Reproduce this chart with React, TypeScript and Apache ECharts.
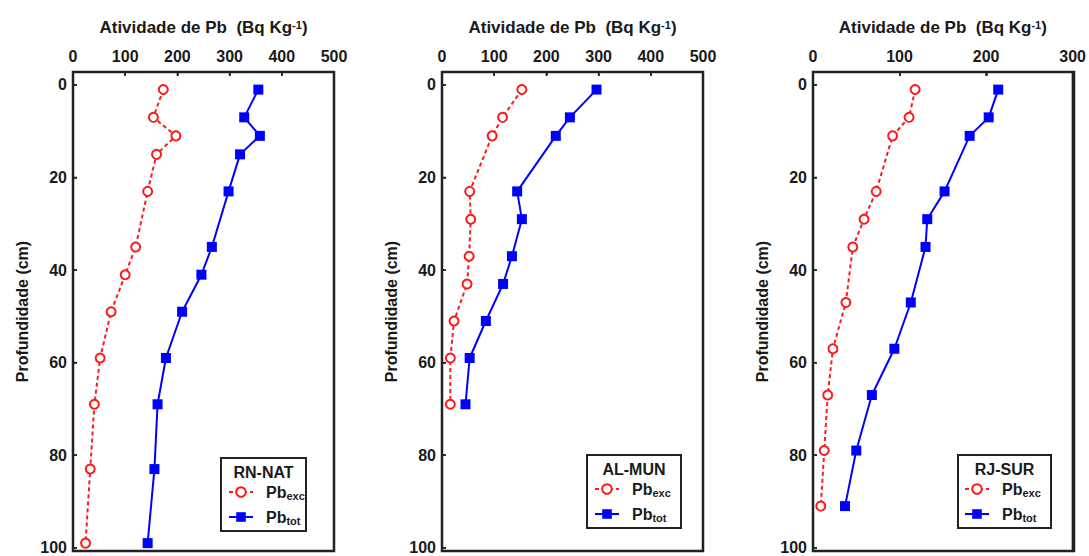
import React, { useEffect, useRef } from "react";
import * as echarts from "echarts";

const depthRN = [1, 7, 11, 15, 23, 35, 41, 49, 59, 69, 83, 99];
const excRN = [173, 154, 197, 160, 143, 120, 100, 73, 52, 41, 33, 24];
const totRN = [355, 328, 358, 320, 298, 266, 246, 209, 178, 162, 156, 143];

const depthAL = [1, 7, 11, 23, 29, 37, 43, 51, 59, 69];
const excAL = [153, 116, 96, 53, 55, 52, 48, 23, 16, 16];
const totAL = [296, 245, 218, 144, 153, 134, 117, 84, 53, 45];

const depthRJ = [1, 7, 11, 23, 29, 35, 47, 57, 67, 79, 91];
const excRJ = [118, 111, 92, 73, 59, 46, 38, 23, 17, 13, 9];
const totRJ = [214, 203, 181, 152, 132, 130, 113, 94, 68, 50, 37];

const siteNames = ["RN-NAT", "AL-MUN", "RJ-SUR"];
const xMaxes = [500, 500, 300];
const xTicks = [100, 200, 300, 400];
const depthTicks = [0, 20, 40, 60, 80, 100];
const yMin = -2.8;
const yMax = 100.7;
const xTitle = "Atividade de Pb  (Bq Kg{sup|-1})";
const yTitle = "Profundidade (cm)";

const FONT = "'Liberation Sans', Arial, sans-serif";
const RED = "#ff1a1a";
const BLUE = "#0000ff";
const INK = "#1a1a1a";
const FRAME = "#222222";

const GRID_TOP = 72;
const GRID_W = 261;
const GRID_H = 479;
const LEFTS = [73, 442, 813];

export default function App() {
  const ref = useRef<HTMLDivElement>(null);

  useEffect(() => {
    if (!ref.current) return;
    const chart = echarts.init(ref.current, null, { renderer: "svg" });

    const panels = [
      { depth: depthRN, exc: excRN, tot: totRN },
      { depth: depthAL, exc: excAL, tot: totAL },
      { depth: depthRJ, exc: excRJ, tot: totRJ },
    ];
    const legendBoxes = [
      { x: 221, y: 458, w: 85, h: 73, iconX: 228, rowTop: 484 },
      { x: 587, y: 455, w: 94, h: 73, iconX: 594, rowTop: 481 },
      { x: 958, y: 455, w: 93, h: 73, iconX: 964, rowTop: 481 },
    ];

    const grids: any[] = [];
    const xAxes: any[] = [];
    const yAxes: any[] = [];
    const series: any[] = [];
    const legends: any[] = [];
    const graphics: any[] = [];

    panels.forEach((p, i) => {
      const L = LEFTS[i];
      grids.push({
        left: L,
        top: GRID_TOP,
        width: GRID_W,
        height: GRID_H,
        show: true,
        borderColor: FRAME,
        borderWidth: 2,
      });
      xAxes.push({
        type: "value",
        gridIndex: i,
        position: "top",
        min: 0,
        max: xMaxes[i],
        interval: 100,
        name: xTitle,
        nameLocation: "middle",
        nameGap: 36,
        nameTextStyle: {
          fontSize: 17,
          fontWeight: "bold",
          color: INK,
          fontFamily: FONT,
          rich: {
            sup: {
              fontSize: 11,
              fontWeight: "bold",
              color: INK,
              verticalAlign: "top",
              lineHeight: 10,
            },
          },
        },
        axisLine: { show: true, onZero: false, lineStyle: { color: FRAME, width: 2 } },
        axisTick: { show: true, inside: true, length: 4, lineStyle: { color: FRAME, width: 1.5 } },
        axisLabel: {
          fontSize: 16,
          fontWeight: "bold",
          color: INK,
          fontFamily: FONT,
          margin: 8,
        },
        splitLine: { show: false },
      });
      yAxes.push({
        type: "value",
        gridIndex: i,
        inverse: true,
        min: yMin,
        max: yMax,
        name: yTitle,
        nameLocation: "middle",
        nameGap: 43,
        nameTextStyle: {
          fontSize: 16,
          fontWeight: "bold",
          color: INK,
          fontFamily: FONT,
        },
        axisLine: { show: true, onZero: false, lineStyle: { color: FRAME, width: 2 } },
        axisTick: {
          show: true,
          inside: true,
          length: 4,
          customValues: depthTicks,
          lineStyle: { color: FRAME, width: 1.5 },
        },
        axisLabel: {
          fontSize: 16,
          fontWeight: "bold",
          color: INK,
          fontFamily: FONT,
          margin: 6,
          customValues: depthTicks,
        },
        splitLine: { show: false },
      });
      series.push({
        type: "line",
        name: "Pb exc",
        xAxisIndex: i,
        yAxisIndex: i,
        data: p.depth.map((d, k) => [p.exc[k], d]),
        symbol: "emptyCircle",
        symbolSize: 9,
        itemStyle: { color: RED, borderWidth: 1.5 },
        lineStyle: { color: RED, width: 2, type: [4, 3] },
        z: 3,
      });
      series.push({
        type: "line",
        name: "Pb tot",
        xAxisIndex: i,
        yAxisIndex: i,
        data: p.depth.map((d, k) => [p.tot[k], d]),
        symbol: "rect",
        symbolSize: 10,
        itemStyle: { color: BLUE },
        lineStyle: { color: BLUE, width: 2 },
        z: 4,
      });

      // Panel frame (layout box of the grid) and inward ticks.
      const T = GRID_TOP;
      const R = L + GRID_W;
      const B = GRID_TOP + GRID_H;
      graphics.push({
        type: "rect",
        shape: { x: L, y: T, width: GRID_W, height: GRID_H },
        style: { stroke: FRAME, lineWidth: 2.5, fill: "rgba(0,0,0,0)" },
        z: 20,
        silent: true,
      });
      graphics.push({
        type: "polyline",
        shape: { points: [[L, T], [R, T], [R, B], [L, B], [L, T]] },
        style: { stroke: FRAME, lineWidth: 2, fill: null },
        z: 20,
        silent: true,
      });
      xTicks
        .filter((v) => v < xMaxes[i])
        .forEach((v) => {
          const px = L + (v / xMaxes[i]) * GRID_W;
          graphics.push({
            type: "line",
            shape: { x1: px, y1: T, x2: px, y2: T + 4 },
            style: { stroke: FRAME, lineWidth: 1.5 },
            z: 20,
            silent: true,
          });
        });
      depthTicks.forEach((v) => {
        const py = T + ((v - yMin) / (yMax - yMin)) * GRID_H;
        graphics.push({
          type: "line",
          shape: { x1: L, y1: py, x2: L + 4, y2: py },
          style: { stroke: FRAME, lineWidth: 1.5 },
          z: 20,
          silent: true,
        });
      });

      const b = legendBoxes[i];
      graphics.push({
        type: "rect",
        shape: { x: b.x, y: b.y, width: b.w, height: b.h },
        style: { fill: "#fff", stroke: FRAME, lineWidth: 2 },
        z: 21,
      });
      graphics.push({
        type: "text",
        x: b.x + b.w / 2,
        y: b.y + 14,
        style: {
          text: siteNames[i],
          fontSize: 16,
          fontWeight: "bold",
          fontFamily: FONT,
          fill: INK,
          align: "center",
          verticalAlign: "middle",
        },
        z: 22,
      });
      legends.push({
        orient: "vertical",
        left: b.iconX,
        top: b.rowTop,
        padding: 0,
        itemGap: 8,
        itemWidth: 24,
        itemHeight: 12,
        z: 30,
        data: ["Pb exc", "Pb tot"],
        selectedMode: false,
        formatter: (name: string) =>
          name === "Pb exc" ? "{b|Pb}{s|exc}" : "{b|Pb}{s|tot}",
        textStyle: {
          color: INK,
          fontFamily: FONT,
          rich: {
            b: {
              fontSize: 16,
              fontWeight: "bold",
              color: INK,
              fontFamily: FONT,
              lineHeight: 18,
              padding: [0, 0, 0, 8],
            },
            s: {
              fontSize: 11,
              fontWeight: "bold",
              color: INK,
              fontFamily: FONT,
              lineHeight: 10,
              verticalAlign: "bottom",
            },
          },
        },
      });
    });

    chart.setOption({
      animation: false,
      backgroundColor: "#fff",
      textStyle: { fontFamily: FONT },
      grid: grids,
      xAxis: xAxes,
      yAxis: yAxes,
      series,
      legend: legends,
      graphic: graphics,
    });

    return () => chart.dispose();
  }, []);

  return (
    <div
      ref={ref}
      style={{ position: "absolute", left: 0, top: 0, width: 1089, height: 556 }}
    />
  );
}
